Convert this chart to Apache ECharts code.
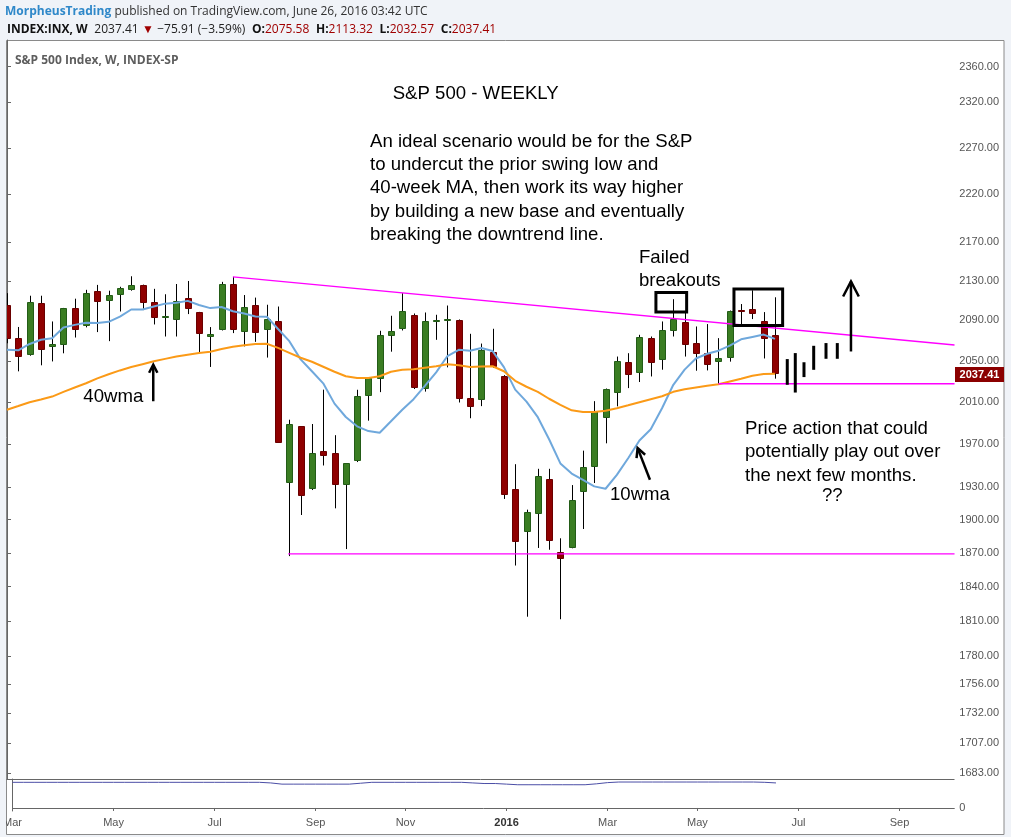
<!DOCTYPE html>
<html>
<head>
<meta charset="utf-8">
<script src="https://cdn.jsdelivr.net/npm/echarts@6/dist/echarts.min.js"></script>
<style>
  html, body { margin: 0; padding: 0; background: #f0f3f8; }
  #chart { width: 1011px; height: 837px; }
</style>
</head>
<body>
<div id="chart"></div>
<script>
// weekly bars, Mar 2015 - Jun 2016 (index = week number from the first bar)
const weeks = [
  '2015-03-02', '2015-03-09', '2015-03-16', '2015-03-23', '2015-03-30', '2015-04-06', '2015-04-13', '2015-04-20', '2015-04-27', '2015-05-04',
  '2015-05-11', '2015-05-18', '2015-05-25', '2015-06-01', '2015-06-08', '2015-06-15', '2015-06-22', '2015-06-29', '2015-07-06', '2015-07-13',
  '2015-07-20', '2015-07-27', '2015-08-03', '2015-08-10', '2015-08-17', '2015-08-24', '2015-08-31', '2015-09-07', '2015-09-14', '2015-09-21',
  '2015-09-28', '2015-10-05', '2015-10-12', '2015-10-19', '2015-10-26', '2015-11-02', '2015-11-09', '2015-11-16', '2015-11-23', '2015-11-30',
  '2015-12-07', '2015-12-14', '2015-12-21', '2015-12-28', '2016-01-04', '2016-01-11', '2016-01-18', '2016-01-25', '2016-02-01', '2016-02-08',
  '2016-02-15', '2016-02-22', '2016-02-29', '2016-03-07', '2016-03-14', '2016-03-21', '2016-03-28', '2016-04-04', '2016-04-11', '2016-04-18',
  '2016-04-25', '2016-05-02', '2016-05-09', '2016-05-16', '2016-05-23', '2016-05-30', '2016-06-06', '2016-06-13', '2016-06-20'
];
const opens = [
  2105.2, 2072.3, 2055.4, 2108.0, 2064.1, 2064.9, 2102.9, 2084.1, 2119.3, 2110.2,
  2115.6, 2121.3, 2125.3, 2108.6, 2092.3, 2091.3, 2112.5, 2098.6, 2073.8, 2080.4,
  2126.4, 2079.0, 2105.4, 2081.0, 2089.7, 1933.2, 1986.7, 1927.7, 1963.0, 1961.4,
  1931.4, 1954.3, 2016.1, 2032.0, 2075.0, 2081.4, 2095.4, 2022.5, 2089.0, 2090.0,
  2090.7, 2014.3, 2012.0, 2058.2, 2034.7, 1928.2, 1889.0, 1904.9, 1937.2, 1871.0,
  1874.8, 1925.1, 1947.7, 1995.5, 2019.4, 2048.8, 2038.1, 2072.4, 2050.8, 2079.4,
  2088.4, 2067.7, 2057.8, 2048.8, 2052.7, 2100.1, 2101.4, 2089.0, 2075.58
];
const highs = [
  2117.5, 2083.5, 2114.9, 2114.9, 2089.0, 2102.6, 2111.9, 2120.9, 2125.9, 2120.0,
  2124.0, 2134.7, 2126.2, 2121.9, 2116.4, 2126.8, 2129.9, 2098.6, 2083.4, 2129.0,
  2134.1, 2115.6, 2113.0, 2105.8, 2104.0, 1993.0, 1986.7, 1988.9, 2021.9, 1978.3,
  1952.0, 2021.8, 2034.0, 2079.7, 2094.7, 2117.5, 2097.0, 2098.0, 2095.7, 2105.0,
  2091.0, 2076.7, 2067.0, 2081.7, 2036.0, 1951.0, 1909.0, 1946.7, 1946.7, 1883.0,
  1931.6, 1963.7, 2010.8, 2023.0, 2054.2, 2057.5, 2075.7, 2074.0, 2089.0, 2111.4,
  2099.0, 2084.0, 2086.4, 2072.4, 2100.0, 2106.5, 2120.4, 2098.4, 2113.32
];
const lows = [
  2067.3, 2039.7, 2055.0, 2045.6, 2049.4, 2057.4, 2073.0, 2083.1, 2078.4, 2069.4,
  2099.0, 2120.0, 2100.4, 2086.0, 2074.0, 2074.0, 2096.4, 2057.4, 2044.0, 2080.0,
  2077.4, 2064.2, 2068.7, 2053.2, 1970.9, 1867.0, 1904.1, 1927.0, 1949.8, 1910.2,
  1873.3, 1953.0, 1992.1, 2019.5, 2059.0, 2080.0, 2022.5, 2020.0, 2070.7, 2043.6,
  2009.5, 1994.4, 2006.0, 2043.0, 1918.8, 1858.6, 1813.6, 1874.3, 1872.7, 1811.4,
  1874.0, 1891.4, 1933.5, 1970.6, 2005.8, 2023.4, 2029.3, 2034.7, 2041.3, 2074.0,
  2054.2, 2040.3, 2040.6, 2026.6, 2049.2, 2086.4, 2091.4, 2052.3, 2032.57
];
const closes = [
  2071.3, 2053.4, 2108.1, 2061.0, 2067.0, 2102.1, 2081.2, 2117.7, 2108.3, 2116.1,
  2122.7, 2126.1, 2107.4, 2092.8, 2094.1, 2110.0, 2101.5, 2076.8, 2076.6, 2126.6,
  2079.7, 2103.8, 2077.6, 2091.5, 1970.9, 1988.9, 1921.2, 1961.1, 1958.1, 1931.3,
  1951.8, 2015.8, 2033.1, 2075.2, 2079.7, 2099.8, 2023.5, 2089.7, 2090.1, 2091.4,
  2012.9, 2005.5, 2061.0, 2043.9, 1922.0, 1880.3, 1906.9, 1940.2, 1880.5, 1865.0,
  1918.0, 1948.0, 2000.9, 2023.0, 2050.2, 2035.7, 2073.7, 2047.8, 2080.4, 2091.0,
  2065.2, 2057.1, 2046.3, 2053.0, 2099.5, 2099.1, 2096.4, 2071.4, 2037.41
];
// moving averages
const ma10 = [
  2060.8, 2060.3, 2066.6, 2070.8, 2072.3, 2083.0, 2085.6, 2087.7, 2087.5, 2088.6,
  2093.8, 2101.0, 2101.0, 2104.1, 2106.9, 2107.7, 2109.7, 2105.6, 2102.4, 2103.5,
  2099.2, 2096.9, 2094.0, 2093.8, 2081.5, 2069.4, 2051.4, 2039.8, 2028.0, 2008.4,
  1995.6, 1986.7, 1982.2, 1980.6, 1991.5, 2002.5, 2012.7, 2025.5, 2038.7, 2054.7,
  2060.8, 2059.9, 2062.7, 2059.6, 2043.8, 2021.9, 2010.3, 1995.4, 1974.4, 1951.7,
  1942.3, 1936.5, 1930.4, 1928.2, 1941.0, 1956.6, 1973.2, 1983.9, 2004.0, 2026.6,
  2041.4, 2052.3, 2057.0, 2060.0, 2064.9, 2071.2, 2073.6, 2075.9, 2071.6
];
const ma40 = [
  2002.5, 2006.1, 2009.8, 2012.3, 2015.2, 2019.8, 2024.0, 2028.1, 2032.9, 2036.9,
  2040.6, 2043.9, 2046.7, 2049.5, 2051.9, 2054.2, 2056.0, 2057.6, 2058.9, 2061.7,
  2063.8, 2065.4, 2066.5, 2066.8, 2062.8, 2057.9, 2053.0, 2049.1, 2044.2, 2039.3,
  2034.9, 2033.1, 2033.1, 2034.9, 2039.3, 2041.2, 2041.7, 2043.2, 2044.7, 2046.6,
  2045.6, 2043.9, 2044.5, 2044.7, 2039.8, 2030.5, 2024.7, 2019.8, 2013.1, 2007.3,
  2002.0, 2000.3, 2000.3, 2001.6, 2004.0, 2006.8, 2009.7, 2012.6, 2015.5, 2019.8,
  2022.3, 2024.0, 2025.6, 2027.1, 2029.8, 2032.5, 2035.4, 2037.0, 2037.3
];
// lower pane indicator line
const lowerPane = [
  85, 85, 85, 85, 85, 85, 85, 85, 85, 85,
  85, 85, 85, 85, 85, 85, 85, 85, 85, 85,
  85, 85, 85, 83, 79, 79, 79, 79, 79, 79,
  79, 82, 85, 85, 85, 85, 85, 85, 85, 85,
  85, 83, 81, 81, 79, 77, 77, 77, 77, 77,
  77, 77, 80, 84, 86, 86, 86, 86, 86, 86,
  86, 86, 86, 86, 86, 86, 86, 85, 83
];

const priceTicks = [2360, 2320, 2270, 2220, 2170, 2130, 2090, 2050, 2010, 1970, 1930, 1900, 1870, 1840, 1810, 1780, 1756, 1732, 1707, 1683];
const tickWeeks = [0, 9, 18, 27, 35, 44, 53, 61, 70, 79];
const tickLabels = ['Mar', 'May', 'Jul', 'Sep', 'Nov', '2016', 'Mar', 'May', 'Jul', 'Sep'];

// hand drawings, in [week, price] units
const trendLines = [[20, 2134, 83.9, 2065.6], [24.9, 1869, 83.9, 1869], [63, 2027.6, 83.9, 2027.6]];
const futureBars = [[69.09, 2051.7, 2026.6], [69.8, 2057.6, 2019.1], [70.57, 2048.6, 2034.1], [71.43, 2064.8, 2041.2], [72.52, 2067.5, 2052.0], [73.52, 2067.5, 2052.0]];
const boxes = [[57.46, 2118.2, 60.18, 2098.4], [64.37, 2121.7, 68.68, 2085.0]];
const arrows = [[12.95, 2010.7, 12.95, 2046.1], [56.93, 1936.5, 55.84, 1966.1], [74.73, 2059.2, 74.73, 2129.4]];
const arrowHead = [9, 10, 17];

const UP = '#3a7d22', UP_EDGE = '#235c17', DN = '#8f0000', DN_EDGE = '#6a0000';
const AXIS = '#666', LABEL = '#555';
const NOTE_FONT = 'Liberation Sans, Arial, sans-serif';
const HEAD_FONT = '"Open Sans", sans-serif';

const candles = weeks.map((w, i) => [i, opens[i], closes[i], lows[i], highs[i]]);

function renderCandle(params, api) {
  const i = api.value(0);
  const o = api.coord([i, api.value(1)]);
  const c = api.coord([i, api.value(2)]);
  const l = api.coord([i, api.value(3)]);
  const h = api.coord([i, api.value(4)]);
  const up = api.value(2) >= api.value(1);
  const cx = Math.round(o[0]);
  const top = Math.round(Math.min(o[1], c[1]));
  const hgt = Math.max(Math.round(Math.abs(o[1] - c[1])), 2);
  return {
    type: 'group',
    children: [
      { type: 'line', shape: { x1: cx + 0.5, y1: h[1], x2: cx + 0.5, y2: l[1] }, style: { stroke: '#000', lineWidth: 1 } },
      { type: 'rect', shape: { x: cx - 2.5, y: top + 0.5, width: 6, height: hgt - 1 },
        style: { fill: up ? UP : DN, stroke: up ? UP_EDGE : DN_EDGE, lineWidth: 1 } }
    ]
  };
}

// kind: 0 magenta line, 1 drawn future bar, 2 box, 3 arrow
const notes = [];
trendLines.forEach(t => notes.push([t[0], t[1], t[2], t[3], 0, 0]));
futureBars.forEach(b => notes.push([b[0], b[1], b[0], b[2], 1, 0]));
boxes.forEach(b => notes.push([b[0], b[1], b[2], b[3], 2, 0]));
arrows.forEach((a, k) => notes.push([a[0], a[1], a[2], a[3], 3, k]));

function renderNote(params, api) {
  const kind = api.value(4);
  const a = api.coord([api.value(0), api.value(1)]);
  const b = api.coord([api.value(2), api.value(3)]);
  const seg = { x1: a[0], y1: a[1], x2: b[0], y2: b[1] };
  if (kind === 0) {
    return { type: 'line', shape: seg, style: { stroke: '#ff00ff', lineWidth: 1.3 } };
  }
  if (kind === 1) {
    return { type: 'line', shape: seg, style: { stroke: '#000', lineWidth: 3 } };
  }
  if (kind === 2) {
    return { type: 'rect', shape: { x: a[0], y: a[1], width: b[0] - a[0], height: b[1] - a[1] },
      style: { fill: 'none', stroke: '#000', lineWidth: 3 } };
  }
  const len = arrowHead[api.value(5)];
  const ang = Math.atan2(b[1] - a[1], b[0] - a[0]);
  const w1 = [b[0] - len * Math.cos(ang - 0.48), b[1] - len * Math.sin(ang - 0.48)];
  const w2 = [b[0] - len * Math.cos(ang + 0.48), b[1] - len * Math.sin(ang + 0.48)];
  return {
    type: 'group',
    children: [
      { type: 'line', shape: seg, style: { stroke: '#000', lineWidth: 2.5 } },
      { type: 'polyline', shape: { points: [w1, b, w2] }, style: { stroke: '#000', lineWidth: 2.5, fill: 'none' } }
    ]
  };
}

const last = weeks.length - 1;
const fmt = v => v.toFixed(2);

function noteText(x, y, text) {
  return { type: 'text', x: x, y: y, z: 20, silent: true,
    style: { text: text, fill: '#000', font: '18.6px ' + NOTE_FONT, textVerticalAlign: 'middle' } };
}

const graphics = [
  { type: 'rect', z: -10, silent: true, shape: { x: 6.5, y: 40.5, width: 997.5, height: 794 },
    style: { fill: '#fff', stroke: '#8a8a8a', lineWidth: 1 } },
  { type: 'line', z: 10, silent: true, shape: { x1: 6.5, y1: 779.5, x2: 954.5, y2: 779.5 },
    style: { stroke: AXIS, lineWidth: 1 } },
  { type: 'rect', z: 30, silent: true, shape: { x: 0, y: 40, width: 6, height: 797 },
    style: { fill: '#f0f3f8' } },
  { type: 'text', x: 5, y: 12, z: 20, silent: true,
    style: {
      text: '{a|MorpheusTrading} {b|published on TradingView.com, June 26, 2016 03:42 UTC}',
      textVerticalAlign: 'middle',
      rich: {
        a: { font: 'bold 12px ' + HEAD_FONT, fill: '#2f88c9' },
        b: { font: '12px ' + HEAD_FONT, fill: '#333' }
      }
    } },
  { type: 'text', x: 7, y: 30, z: 20, silent: true,
    style: {
      text: '{k|INDEX:INX, W}  {v|' + fmt(closes[last]) + '} {r|\u25BC} {v|\u221275.91 (\u22123.59%)}  {k|O:}{r|' + fmt(opens[last]) +
            '}  {k|H:}{r|' + fmt(highs[last]) + '}  {k|L:}{r|' + fmt(lows[last]) + '}  {k|C:}{r|' + fmt(closes[last]) + '}',
      textVerticalAlign: 'middle',
      rich: {
        k: { font: 'bold 12px ' + HEAD_FONT, fill: '#111' },
        v: { font: '12px ' + HEAD_FONT, fill: '#222' },
        r: { font: '12px ' + HEAD_FONT, fill: '#a00000' }
      }
    } },
  { type: 'text', x: 15, y: 61, z: 20, silent: true,
    style: { text: 'S&P 500 Index, W, INDEX-SP', fill: '#5e5e5e', font: 'bold 12px ' + HEAD_FONT, textVerticalAlign: 'middle' } },
  noteText(392.7, 94, 'S&P 500 - WEEKLY'),
  noteText(370, 141.7, 'An ideal scenario would be for the S&P'),
  noteText(370, 165, 'to undercut the prior swing low and'),
  noteText(370, 188.3, '40-week MA, then work its way higher'),
  noteText(370, 211.6, 'by building a new base and eventually'),
  noteText(370, 234.9, 'breaking the downtrend line.'),
  noteText(639, 257.6, 'Failed'),
  noteText(639, 280.9, 'breakouts'),
  noteText(83.3, 396.7, '40wma'),
  noteText(610, 495, '10wma'),
  noteText(745, 429, 'Price action that could'),
  noteText(745, 452.3, 'potentially play out over'),
  noteText(745, 475.6, 'the next few months.'),
  noteText(822, 496, '??')
];

const option = {
  animation: false,
  backgroundColor: '#f0f3f8',
  textStyle: { fontFamily: 'Liberation Sans, Arial, sans-serif' },
  grid: [
    { left: 7, top: 40, width: 947.3, height: 739 },
    { left: 7, top: 779, width: 947.3, height: 32 }
  ],
  xAxis: [
    { gridIndex: 0, type: 'value', min: 0, max: 83.88, show: false },
    {
      gridIndex: 1, type: 'value', min: 0, max: 83.88,
      axisLine: { show: true, lineStyle: { color: AXIS } },
      axisTick: { show: true, customValues: tickWeeks, length: 3, lineStyle: { color: AXIS } },
      axisLabel: {
        customValues: tickWeeks, color: LABEL, fontSize: 11, margin: 6, hideOverlap: false,
        formatter: v => {
          const s = tickLabels[tickWeeks.indexOf(Math.round(v))];
          return s === '2016' ? '{b|2016}' : s;
        },
        rich: { b: { fontWeight: 'bold', fontSize: 11, color: '#333' } }
      },
      splitLine: { show: false }
    }
  ],
  yAxis: [
    {
      gridIndex: 0, type: 'log', logBase: 10, min: 1678, max: 2390.4, position: 'right',
      axisLine: { show: true, lineStyle: { color: AXIS } },
      axisTick: { show: true, customValues: priceTicks, length: 4, lineStyle: { color: AXIS } },
      axisLabel: { customValues: priceTicks, formatter: v => fmt(v), color: LABEL, fontSize: 11, margin: 5, hideOverlap: false },
      splitLine: { show: false }
    },
    {
      gridIndex: 1, type: 'value', min: -10, max: 96, position: 'right',
      axisLine: { show: true, lineStyle: { color: AXIS } },
      axisTick: { show: true, customValues: [0], length: 4, lineStyle: { color: AXIS } },
      axisLabel: { customValues: [0], formatter: () => '0', color: LABEL, fontSize: 11, margin: 5 },
      splitLine: { show: false }
    }
  ],
  series: [
    {
      name: 'S&P 500', type: 'custom', xAxisIndex: 0, yAxisIndex: 0,
      renderItem: renderCandle, data: candles, clip: true, z: 2,
      encode: { x: 0, y: [1, 2, 3, 4] }
    },
    {
      name: '10wma', type: 'line', xAxisIndex: 0, yAxisIndex: 0, z: 3,
      data: ma10.map((v, i) => [i, v]), symbol: 'none',
      lineStyle: { color: '#6fa8dc', width: 2 }
    },
    {
      name: '40wma', type: 'line', xAxisIndex: 0, yAxisIndex: 0, z: 3,
      data: ma40.map((v, i) => [i, v]), symbol: 'none',
      lineStyle: { color: '#fb9a17', width: 2 }
    },
    {
      name: 'drawings', type: 'custom', xAxisIndex: 0, yAxisIndex: 0,
      renderItem: renderNote, data: notes, clip: true, z: 4,
      encode: { x: [0, 2], y: [1, 3] }
    },
    {
      name: 'lower', type: 'line', xAxisIndex: 1, yAxisIndex: 1,
      data: lowerPane.map((v, i) => [i, v]), symbol: 'none',
      lineStyle: { color: '#4b4ea6', width: 1 }
    }
  ],
  graphic: graphics
};

const chart = echarts.init(document.getElementById('chart'));
chart.setOption(option);

// last price tag on the price scale, placed through the y axis
const tagY = chart.convertToPixel({ yAxisIndex: 0 }, closes[last]);
graphics.push(
  { type: 'rect', z: 25, silent: true, shape: { x: 955, y: Math.round(tagY) - 7, width: 49, height: 15 },
    style: { fill: '#8b0000' } },
  { type: 'text', z: 26, silent: true, x: 979.5, y: Math.round(tagY) + 0.5,
    style: { text: fmt(closes[last]), fill: '#fff', font: 'bold 11px ' + NOTE_FONT, textAlign: 'center', textVerticalAlign: 'middle' } }
);
chart.setOption(option, true);
</script>
</body>
</html>
